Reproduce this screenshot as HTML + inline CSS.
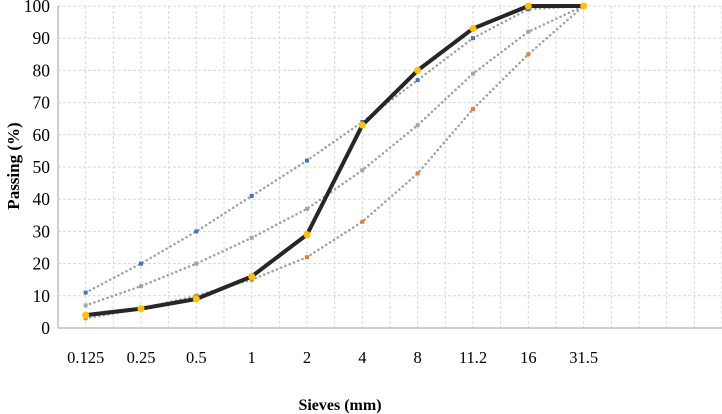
<!DOCTYPE html>
<html><head><meta charset="utf-8"><style>
body{margin:0;background:#fff}
svg{display:block;font-family:"Liberation Serif",serif}
</style></head><body>
<svg id="c" width="722" height="414">
<g id="grid"></g>
<g id="axes"></g>
<g id="series"></g>
<text x="19" y="166" transform="rotate(-90 19 166)" text-anchor="middle" font-weight="bold" font-size="17">Passing (%)</text>
<text x="340" y="410" text-anchor="middle" font-weight="bold" font-size="16">Sieves (mm)</text>
</svg>
<script>
const categories=["0.125","0.25","0.5","1","2","4","8","11.2","16","31.5"];
const upperLimit=[11,20,30,41,52,64,77,90,99,100];
const middleLimit=[7,13,20,28,37,49,63,79,92,100];
const lowerLimit=[3,6,10,15,22,33,48,68,85,100];
const mixture=[4,6,9,16,29,63,80,93,100,100];
const yTicks=[0,10,20,30,40,50,60,70,80,90,100];
const NS="http://www.w3.org/2000/svg";
const L=58,R=722,T=6,B=328,slots=12,sw=(R-L)/slots;
const x=i=>L+sw*(i+0.5);
const y=v=>B-(v/100)*(B-T);
function mk(t,a,p){const e=document.createElementNS(NS,t);for(const k in a)e.setAttribute(k,a[k]);p.appendChild(e);return e;}
const grid=document.getElementById('grid'),axes=document.getElementById('axes'),ser=document.getElementById('series');
for(let k=1;k<=slots*2;k++){const gx=L+k*sw/2;const l=mk('line',{x1:gx,x2:gx,y1:T,y2:B,stroke:'#d9d9d9','stroke-dasharray':'3 2','stroke-width':1},grid);

}
yTicks.forEach(v=>{if(v>0){const l=mk('line',{x1:L,x2:R,y1:y(v),y2:y(v),stroke:'#d9d9d9','stroke-dasharray':'3 2','stroke-width':1},grid);

}
const t=mk('text',{x:L-8,y:y(v)+6,'text-anchor':'end','font-size':17.5},axes);t.textContent=v;

});
const ax=mk('line',{x1:L,x2:L,y1:T,y2:B,stroke:'#bfbfbf','stroke-width':1.5},axes);


const bx=mk('line',{x1:L,x2:R,y1:B,y2:B,stroke:'#bfbfbf','stroke-width':1.5},axes);


categories.forEach((c,i)=>{const t=mk('text',{x:x(i),y:B+35,'text-anchor':'middle','font-size':16.5},axes);t.textContent=c;

});
function line(vals,name,stroke,w,dash,mcol,shape){
const p=mk('polyline',{points:vals.map((v,i)=>x(i)+','+y(v)).join(' '),fill:'none',stroke:stroke,'stroke-width':w,'stroke-dasharray':dash,'stroke-linecap':dash?'round':'butt','stroke-linejoin':'round'},ser);


vals.forEach((v,i)=>{let m;
if(shape==='c')m=mk('circle',{cx:x(i),cy:y(v),r:3.5,fill:mcol},ser);
else m=mk('rect',{x:x(i)-2,y:y(v)-2,width:4,height:4,fill:mcol},ser);

});}
line(upperLimit,'upper-limit','#a0a0a0',2.5,'0.1 4.5','#4472c4','s');
line(middleLimit,'middle-limit','#a0a0a0',2.5,'0.1 4.5','#a5a5a5','s');
line(lowerLimit,'lower-limit','#a0a0a0',2.5,'0.1 4.5','#ed7d31','s');
line(mixture,'mixture','#262626',4,null,'#ffc000','c');
</script>
</body></html>
